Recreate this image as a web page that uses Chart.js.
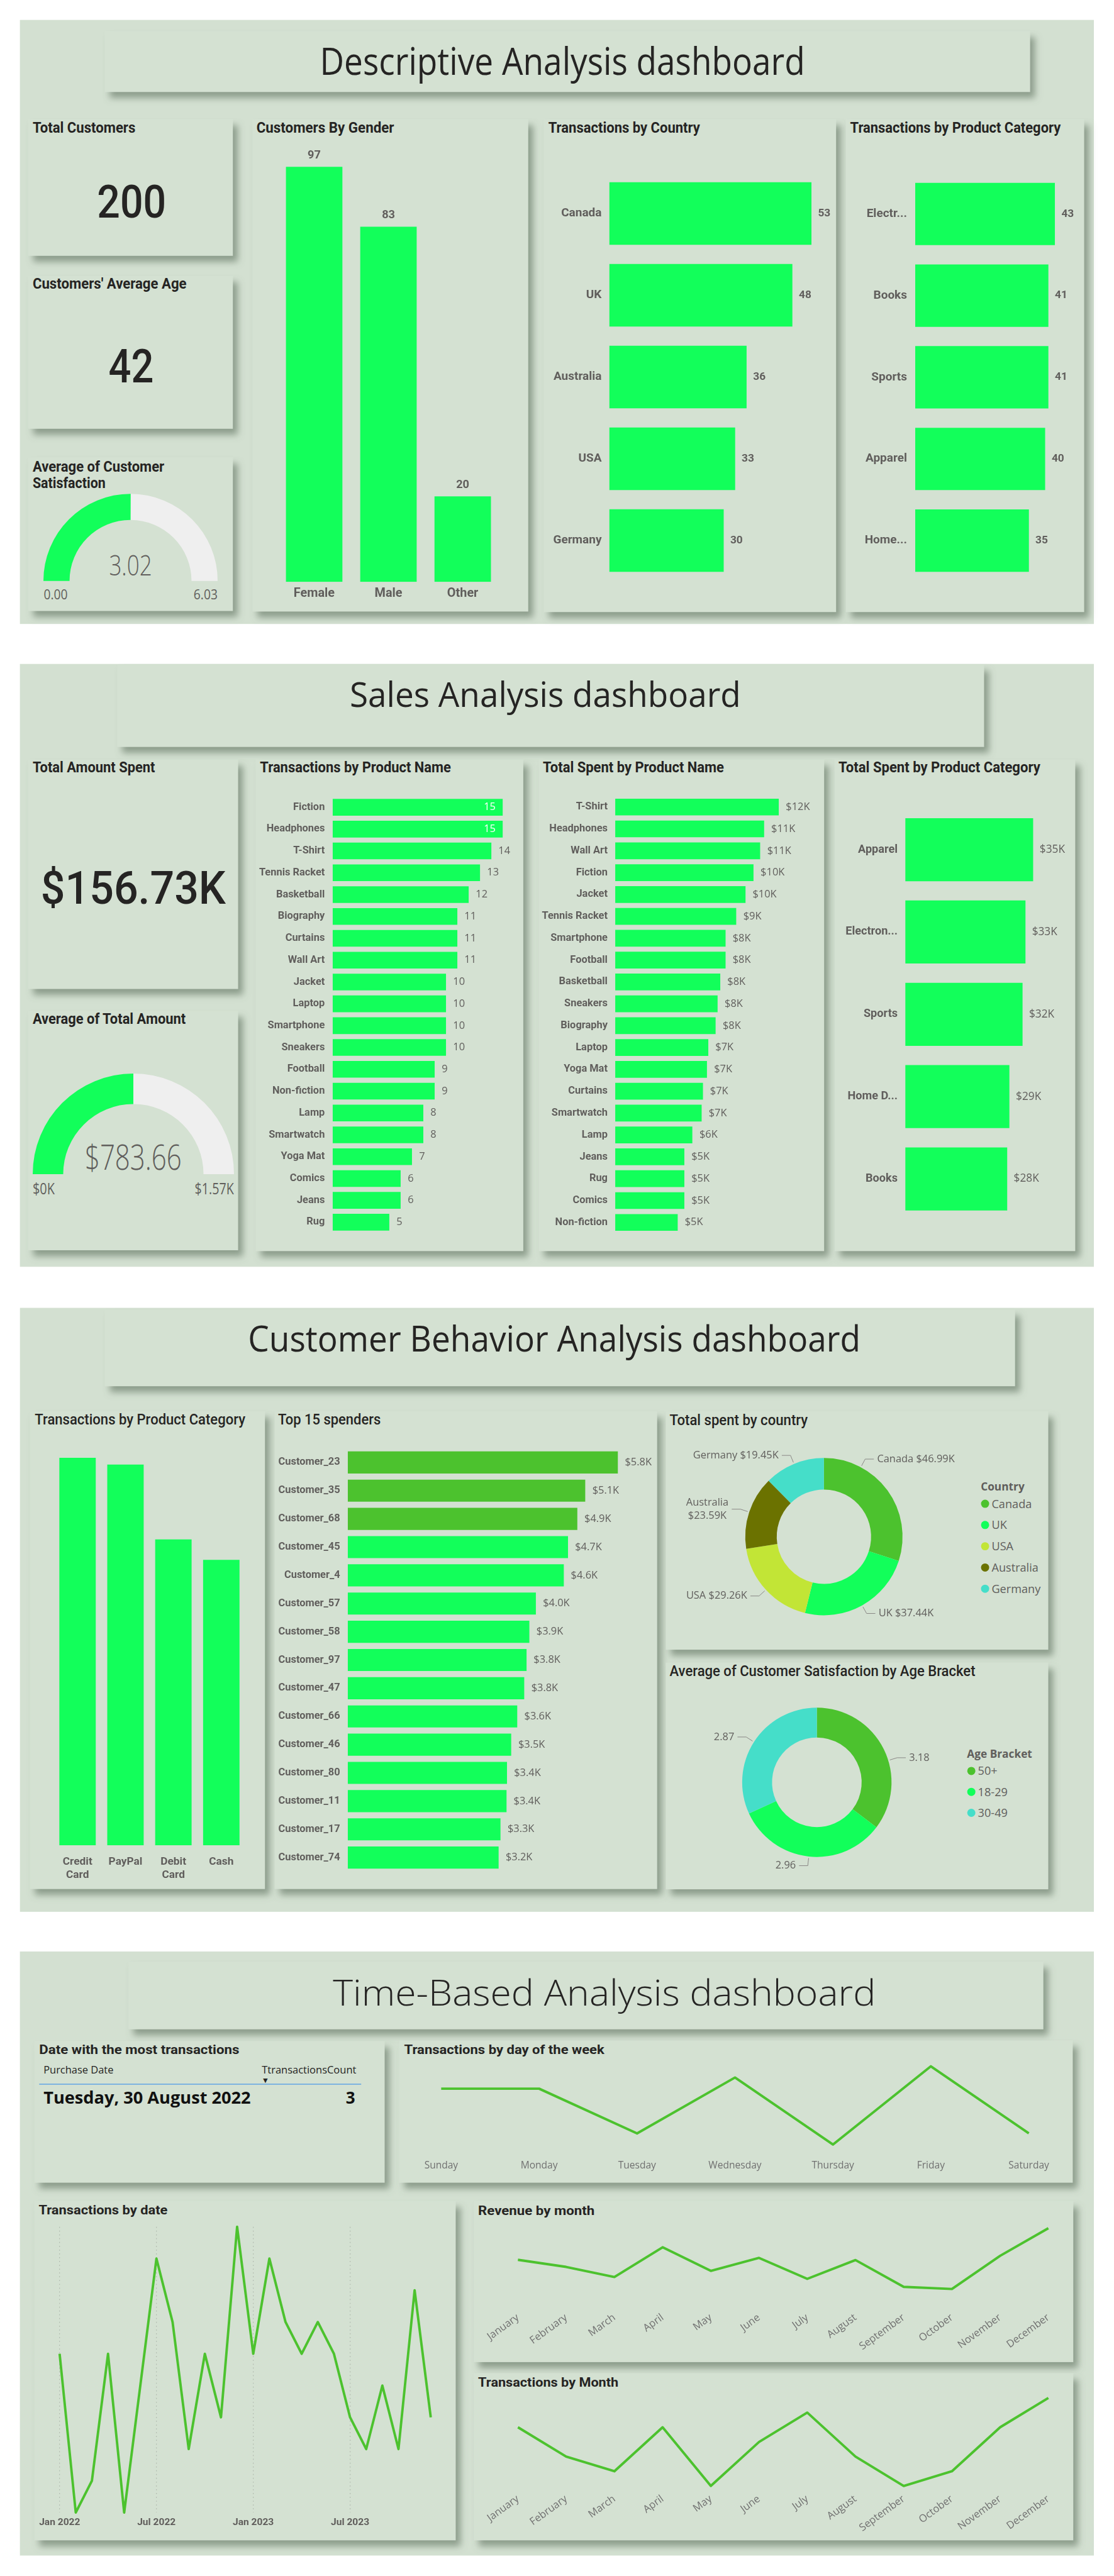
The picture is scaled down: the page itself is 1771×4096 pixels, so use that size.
<!DOCTYPE html>
<html><head><meta charset="utf-8">
<script src="https://cdn.jsdelivr.net/npm/chart.js@4.4.1/dist/chart.umd.min.js"></script>
<style>
html,body{margin:0;padding:0;background:#fff;}
#page{position:relative;width:1771px;height:4096px;overflow:hidden;background:#fff;}
#bg{position:absolute;left:0;top:0;}
canvas{position:absolute;}
</style></head>
<body><div id="page"><svg id="bg" width="1771" height="4096" viewBox="0 0 2048 4736"></svg></div>
<script>
// ---------------- DATA ----------------
// Descriptive
const totalCustomers = 200;
const averageAge = 42;
const avgSatisfaction = 3.02;
const satisfactionMax = 6.03;
const genderLabels = ['Female', 'Male', 'Other'];
const genderCounts = [97, 83, 20];
const countryLabels = ['Canada', 'UK', 'Australia', 'USA', 'Germany'];
const countryTransactions = [53, 48, 36, 33, 30];
const categoryLabels = ['Electr...', 'Books', 'Sports', 'Apparel', 'Home...'];
const categoryTransactions = [43, 41, 41, 40, 35];
// Sales
const totalAmountSpentK = 156.73;
const avgTotalAmount = 783.66;
const avgTotalAmountMax = 1567.32;
const productNames = ['Fiction','Headphones','T-Shirt','Tennis Racket','Basketball','Biography','Curtains','Wall Art','Jacket','Laptop','Smartphone','Sneakers','Football','Non-fiction','Lamp','Smartwatch','Yoga Mat','Comics','Jeans','Rug'];
const productTransactions = [15,15,14,13,12,11,11,11,10,10,10,10,9,9,8,8,7,6,6,5];
const spentProductNames = ['T-Shirt','Headphones','Wall Art','Fiction','Jacket','Tennis Racket','Smartphone','Football','Basketball','Sneakers','Biography','Laptop','Yoga Mat','Curtains','Smartwatch','Lamp','Jeans','Rug','Comics','Non-fiction'];
const spentByProductK = [12.3,11.2,10.9,10.4,9.8,9.1,8.3,8.3,7.9,7.7,7.55,7.0,6.9,6.6,6.5,5.8,5.2,5.2,5.2,4.7];
const spentCategoryLabels = ['Apparel', 'Electron...', 'Sports', 'Home D...', 'Books'];
const spentByCategoryK = [35.0, 32.9, 32.1, 28.5, 27.9];
// Customer behaviour
const paymentLabels = [['Credit','Card'], 'PayPal', ['Debit','Card'], 'Cash'];
const paymentTransactions = [57, 56, 45, 42];
const topSpenders = ['Customer_23','Customer_35','Customer_68','Customer_45','Customer_4','Customer_57','Customer_58','Customer_97','Customer_47','Customer_66','Customer_46','Customer_80','Customer_11','Customer_17','Customer_74'];
const topSpentK = [5.8,5.1,4.93,4.73,4.64,4.04,3.9,3.84,3.79,3.64,3.51,3.42,3.41,3.28,3.24];
const countries = ['Canada','UK','USA','Australia','Germany'];
const spentByCountryK = [46.99, 37.44, 29.26, 23.59, 19.45];
const ageBrackets = ['50+','18-29','30-49'];
const satisfactionByAge = [3.18, 2.96, 2.87];
// Time based
const mostTxDate = 'Tuesday, 30 August 2022';
const mostTxCount = 3;
const weekdays = ['Sunday','Monday','Tuesday','Wednesday','Thursday','Friday','Saturday'];
const weekdayTx = [30,30,26,31,25,32,26];
const dateMonths = ['Jan 2022','Feb 2022','Mar 2022','Apr 2022','May 2022','Jun 2022','Jul 2022','Aug 2022','Sep 2022','Oct 2022','Nov 2022','Dec 2022','Jan 2023','Feb 2023','Mar 2023','Apr 2023','May 2023','Jun 2023','Jul 2023','Aug 2023','Sep 2023','Oct 2023','Nov 2023','Dec 2023'];
const txByDate = [9,4,5,9,4,8,12,10,6,9,7,13,9,12,10,9,10,9,7,6,8,6,11,7];
const monthNames = ['January','February','March','April','May','June','July','August','September','October','November','December'];
const revenueByMonthK = [13.56,12.86,11.86,14.80,12.47,13.75,11.68,13.54,10.89,10.68,13.96,16.68];
const txByMonth = [18,16,15,18,14,17,19,16,14,15,18,20];

// ---------------- STYLE ----------------
const K = 0.864;
const S = v => v * K;
const GREEN = '#12FF5A', DARK_GREEN = '#4CC22E', LINE_GREEN = '#4CC22E', GRAY = '#605E5C', LIGHT = '#EFEFEF';
const PANEL = '#D3E0D1', CARD = '#D4E1D2', INK = '#252423';
const countryColors = ['#4CC22E', '#12FF5A', '#C2E536', '#6B7200', '#45DEC9'];
const ageColors = ['#4CC22E', '#12FF5A', '#45DEC9'];
Chart.defaults.font.family = 'Roboto';

// ---------------- SVG BACKGROUND + TEXT ----------------
const NS = 'http://www.w3.org/2000/svg';
const svg = document.getElementById('bg');
const PAGE = document.getElementById('page');
function el(tag, attrs, parent) {
  const e = document.createElementNS(NS, tag);
  for (const k in attrs) e.setAttribute(k, attrs[k]);
  (parent || svg).appendChild(e); return e;
}
const defs = el('defs', {});
const flt = el('filter', {id: 'sh', x: '-10%', y: '-10%', width: '130%', height: '140%'}, defs);
el('feDropShadow', {dx: 9, dy: 11, stdDeviation: 6, 'flood-color': '#5f6f5e', 'flood-opacity': 0.6}, flt);

const panels = [[36.6,36.3,1974.4,1110.7],[36.6,1220.5,1974.4,1108.5],[36.7,2404.5,1974.3,1110.5],[36.6,3588,1974.4,1110.7]];
const headers = [[192.7,57,1700.9,111.7],[215.5,1222,1593.5,151],[193,2408,1673,140.5],[236,3607,1682,124]];
const cards = [[52,219,376,251],[52,507,376,281],[52,841,376,282],[464,219,507,905],[1000,219,537,906],[1555,219,438,906],
  [52,1396.5,385.6,421.5],[52,1858.6,385.6,440],[470,1396.5,492,903.5],[991,1396.5,524,903.5],[1534.5,1396.5,442.1,903.5],
  [55,2595,432,878],[505,2595,703,878],[1224,2595,703,438],[1224,3057,703,416.6],
  [63,3753,644,260],[734,3752,1238,261],[63,4047,774.6,623.6],[871,4047,1102,296],[871,4363.5,1102,307.1]];
panels.forEach(r => el('rect', {x:r[0], y:r[1], width:r[2], height:r[3], fill: PANEL}));
headers.concat(cards).forEach(r => el('rect', {x:r[0], y:r[1], width:r[2], height:r[3], fill: CARD, filter: 'url(#sh)'}));

function txt(s, x, y, o) {
  o = o || {};
  const t = el('text', {x, y, 'font-family': o.family || 'Roboto', 'font-size': o.size || 27,
    'font-weight': o.weight || 700, fill: o.fill || INK, 'text-anchor': o.anchor || 'start'});
  if (o.len) { t.setAttribute('textLength', o.len); t.setAttribute('lengthAdjust', 'spacingAndGlyphs'); }
  t.textContent = s; return t;
}
// Section headers
txt('Descriptive Analysis dashboard', 588, 137, {family:'Open Sans', weight:400, size:70, len:892});
txt('Sales Analysis dashboard', 643, 1299, {family:'Open Sans', weight:400, size:64, len:719});
txt('Customer Behavior Analysis dashboard', 456, 2484.5, {family:'Open Sans', weight:400, size:66, len:1126});
txt('Time-Based Analysis dashboard', 612, 3687, {family:'Open Sans', weight:300, size:67, len:998});
// Card titles
const T1 = {size:27, weight:700};
txt('Total Customers', 60, 244, {...T1, len:189});
txt("Customers' Average Age", 60, 531, {...T1, len:283});
txt('Average of Customer', 60, 867, {...T1, len:242});
txt('Satisfaction', 60, 897, {...T1, len:134});
txt('Customers By Gender', 471.5, 244, {...T1, len:253});
txt('Transactions by Country', 1008, 244, {...T1, len:279});
txt('Transactions by Product Category', 1563, 244, {...T1, len:387});
txt('Total Amount Spent', 60, 1420, {...T1, len:225});
txt('Average of Total Amount', 60, 1882, {...T1, len:281.5});
txt('Transactions by Product Name', 478, 1420, {...T1, len:351});
txt('Total Spent by Product Name', 998, 1420, {...T1, len:333});
txt('Total Spent by Product Category', 1541.5, 1420, {...T1, len:371});
const T3 = {size:27, weight:500};
txt('Transactions by Product Category', 64, 2619, {...T3, len:387});
txt('Top 15 spenders', 511, 2619, {...T3, len:189});
txt('Total spent by country', 1231, 2619.6, {...T3, len:254});
txt('Average of Customer Satisfaction by Age Bracket', 1231, 3082, {...T3, len:562});
const T4 = {size:24, weight:700};
txt('Date with the most transactions', 72, 3777, {...T4, len:368});
txt('Transactions by day of the week', 743, 3777, {...T4, len:368});
txt('Transactions by date', 71, 4071, {...T4, len:237});
txt('Revenue by month', 879, 4072, {...T4, len:214});
txt('Transactions by Month', 879, 4388.6, {...T4, len:258});
// KPI values
txt(String(totalCustomers), 242, 399.6, {size:83, weight:500, anchor:'middle', len:127});
txt(String(averageAge), 241, 703, {size:85, weight:500, anchor:'middle', len:83});
txt('$' + totalAmountSpentK.toFixed(2) + 'K', 75, 1662, {size:84, weight:500, len:340});
// Gauge texts
txt(avgSatisfaction.toFixed(2), 240, 1058, {family:'Open Sans', weight:300, size:52, fill:GRAY, anchor:'middle', len:79});
txt((0).toFixed(2), 80.3, 1102, {family:'Open Sans', weight:400, size:26, fill:GRAY, len:44});
txt(satisfactionMax.toFixed(2), 400, 1102, {family:'Open Sans', weight:400, size:26, fill:GRAY, anchor:'end', len:44});
txt('$' + avgTotalAmount.toFixed(2), 245, 2151, {family:'Open Sans', weight:300, size:63, fill:GRAY, anchor:'middle', len:178});
txt('$0K', 60, 2196, {family:'Open Sans', weight:400, size:29, fill:GRAY, len:40.5});
txt('$' + (avgTotalAmountMax/1000).toFixed(2) + 'K', 430, 2196, {family:'Open Sans', weight:400, size:29, fill:GRAY, anchor:'end', len:72});
// Legends
function legend(title, names, colors, x, yTitle, y0, step) {
  txt(title, x - 8, yTitle + 7, {family:'Open Sans', weight:700, size:20, fill:GRAY});
  names.forEach((n, i) => {
    const y = y0 + i * step;
    el('circle', {cx: x, cy: y, r: 7.5, fill: colors[i]});
    txt(n, x + 12, y + 7.5, {family:'Open Sans', weight:400, size:21, fill:GRAY});
  });
}
legend('Country', countries, countryColors, 1811, 2733, 2764.7, 39.07);
legend('Age Bracket', ageBrackets, ageColors, 1785.7, 3224.5, 3256, 38.5);
// Date table
txt('Purchase Date', 80, 3812, {family:'Open Sans', weight:400, size:19, len:128.7});
txt('TtransactionsCount', 655, 3812, {family:'Open Sans', weight:400, size:19, anchor:'end', len:173.7});
txt('\u25BC', 488, 3828, {family:'DejaVu Sans', weight:400, size:11, anchor:'middle'});
el('line', {x1:72, y1:3832, x2:664, y2:3832, stroke:'#7DB3E0', 'stroke-width':2.5});
txt(mostTxDate, 80, 3868, {family:'Open Sans', weight:700, size:30, fill:'#111', len:381});
txt(String(mostTxCount), 653, 3868, {family:'Open Sans', weight:700, size:30, fill:'#111', anchor:'end'});

// ---------------- CHART HELPERS ----------------
function canvasAt(r) {
  const L = Math.round(S(r[0])), T = Math.round(S(r[1])), R = Math.round(S(r[2])), B = Math.round(S(r[3]));
  const c = document.createElement('canvas');
  c.width = R - L; c.height = B - T;
  c.style.left = L + 'px'; c.style.top = T + 'px'; c.style.width = (R - L) + 'px'; c.style.height = (B - T) + 'px';
  PAGE.appendChild(c);
  return {c, L, T, R, B};
}
const baseOpts = {responsive:false, maintainAspectRatio:false, animation:false, devicePixelRatio:1,
  plugins:{legend:{display:false}, tooltip:{enabled:false}}};
function fnt(size, weight, family) { return {size: S(size), weight: weight || 'normal', family: family || 'Roboto'}; }
function cssFont(size, weight, family) { return `${weight || 'normal'} ${S(size)}px ${family || 'Roboto'}`; }

function valueLabels(v) {
  return {id:'vl', afterDatasetsDraw(chart) {
    const ctx = chart.ctx, meta = chart.getDatasetMeta(0), data = chart.data.datasets[0].data;
    ctx.save(); ctx.font = v.font;
    meta.data.forEach((e, i) => {
      const s = v.fmt(data[i]); const w = ctx.measureText(s).width;
      if (v.vertical) {
        ctx.textAlign = 'center'; ctx.textBaseline = 'middle'; ctx.fillStyle = v.color;
        ctx.fillText(s, e.x, e.y - S(v.gap));
      } else {
        ctx.textBaseline = 'middle';
        const x = e.x + S(v.gap);
        if (x + w > chart.chartArea.right) {
          ctx.textAlign = 'right'; ctx.fillStyle = v.inside || '#fff'; ctx.fillText(s, e.x - S(v.gap), e.y);
        } else {
          ctx.textAlign = 'left'; ctx.fillStyle = v.color; ctx.fillText(s, x, e.y);
        }
      }
    });
    ctx.restore();
  }};
}

function hbar(o) {
  const cv = canvasAt(o.rect);
  const a = o.area;
  const pad = {left:0, top:S(a[1]) - cv.T, right:cv.R - S(a[2]), bottom:cv.B - S(a[3])};
  const axisW = S(a[0]) - cv.L;
  return new Chart(cv.c, {
    type:'bar',
    data:{labels:o.labels, datasets:[{data:o.values, backgroundColor:o.colors || GREEN, borderWidth:0,
      barPercentage:o.ratio, categoryPercentage:1}]},
    options:{...baseOpts, indexAxis:'y', layout:{padding:pad},
      scales:{
        x:{display:false, min:0, max:o.max},
        y:{afterFit:s => { s.width = axisW; }, grid:{display:false, drawTicks:false}, border:{display:false},
           ticks:{autoSkip:false, padding:S(o.tickPad), color:GRAY, font:o.labelFont}}
      }},
    plugins:o.vl ? [valueLabels(o.vl)] : []
  });
}
function vbar(o) {
  const cv = canvasAt(o.rect);
  const a = o.area;
  const pad = {left:S(a[0]) - cv.L, top:S(a[1]) - cv.T, right:cv.R - S(a[2]), bottom:0};
  const axisH = cv.B - S(a[3]);
  return new Chart(cv.c, {
    type:'bar',
    data:{labels:o.labels, datasets:[{data:o.values, backgroundColor:GREEN, borderWidth:0,
      barPercentage:o.ratio, categoryPercentage:1}]},
    options:{...baseOpts, layout:{padding:pad},
      scales:{
        y:{display:false, min:0, max:o.max},
        x:{afterFit:s => { s.height = axisH; }, grid:{display:false, drawTicks:false}, border:{display:false},
           ticks:{autoSkip:false, maxRotation:0, padding:S(o.tickPad), color:GRAY, font:o.labelFont}}
      }},
    plugins:o.vl ? [valueLabels(o.vl)] : []
  });
}
function lineChart(o) {
  const cv = canvasAt(o.rect);
  const a = o.area;
  const pad = {left:S(a[0]) - cv.L, top:S(a[1]) - cv.T, right:cv.R - S(a[2]), bottom:0};
  const axisH = cv.B - S(a[3]);
  const ticks = {autoSkip:false, minRotation:o.rot || 0, maxRotation:o.rot || 0, padding:S(o.tickPad),
    color:o.tickColor || GRAY, font:o.labelFont,
    callback: o.tickCb || function(v) { return this.getLabelForValue(v); }};
  return new Chart(cv.c, {
    type:'line',
    data:{labels:o.labels, datasets:[{data:o.values, borderColor:LINE_GREEN, borderWidth:S(4.5), pointRadius:0,
      tension:0, fill:false, clip:false, borderJoinStyle:'round'}]},
    options:{...baseOpts, layout:{padding:pad},
      scales:{
        y:{display:false, min:o.min, max:o.max},
        x:{afterFit:s => { s.height = axisH; },
           grid:o.grid || {display:false, drawTicks:false},
           border:{display:false, dash:[S(2), S(5)]},
           ticks}
      }}
  });
}
function donutLabels(o) {
  return {id:'dl', afterDatasetsDraw(chart) {
    const ctx = chart.ctx, meta = chart.getDatasetMeta(0);
    ctx.save(); ctx.font = cssFont(19, 'normal', '"Open Sans"'); ctx.fillStyle = GRAY; ctx.strokeStyle = '#8A8886'; ctx.lineWidth = 1;
    meta.data.forEach((arc, i) => {
      let ang = (arc.startAngle + arc.endAngle) / 2;
      if (o.angleFromTop && o.angleFromTop[i] != null) ang = (o.angleFromTop[i] - 90) * Math.PI / 180;
      const r = arc.outerRadius + S(3);
      const x0 = arc.x + Math.cos(ang) * r, y0 = arc.y + Math.sin(ang) * r;
      const x1 = arc.x + Math.cos(ang) * (r + S(14)), y1 = arc.y + Math.sin(ang) * (r + S(14));
      const dir = Math.cos(ang) >= 0 ? 1 : -1;
      const x2 = x1 + dir * S(16);
      ctx.beginPath(); ctx.moveTo(x0, y0); ctx.lineTo(x1, y1); ctx.lineTo(x2, y1); ctx.stroke();
      const tx = x2 + dir * S(6);
      ctx.textBaseline = 'middle';
      let lines = [o.full(i)];
      const avail = dir > 0 ? chart.width - tx : tx;
      if (ctx.measureText(lines[0]).width > avail - 4 && o.split) lines = o.split(i);
      if (lines.length === 1) {
        ctx.textAlign = dir > 0 ? 'left' : 'right'; ctx.fillText(lines[0], tx, y1);
      } else {
        const mw = Math.max(...lines.map(l => ctx.measureText(l).width));
        const cx = dir > 0 ? tx + mw / 2 : tx - mw / 2; const lh = S(24.5);
        ctx.textAlign = 'center';
        lines.forEach((l, k) => ctx.fillText(l, cx, y1 + (k - (lines.length - 1) / 2) * lh));
      }
    });
    ctx.restore();
  }};
}
function donut(o) {
  const cv = canvasAt(o.rect);
  const a = o.square;
  const pad = {left:S(a[0]) - cv.L, top:S(a[1]) - cv.T, right:cv.R - S(a[2]), bottom:cv.B - S(a[3])};
  return new Chart(cv.c, {
    type:'doughnut',
    data:{labels:o.labels, datasets:[{data:o.values, backgroundColor:o.colors, borderWidth:0}]},
    options:{...baseOpts, cutout:o.cutout, layout:{padding:pad}},
    plugins:[donutLabels(o)]
  });
}
function gauge(rect, value, max, cutout) {
  const cv = canvasAt(rect);
  return new Chart(cv.c, {
    type:'doughnut',
    data:{labels:['value','remaining'], datasets:[{data:[value, max - value], backgroundColor:[GREEN, LIGHT], borderWidth:0}]},
    options:{...baseOpts, rotation:-90, circumference:180, cutout, layout:{padding:0}}
  });
}

// ---------------- CHARTS ----------------
// Descriptive
gauge([79.7, 908.5, 400.7, 1069], avgSatisfaction, satisfactionMax, '70%');
vbar({rect:[464, 232, 971, 1124], area:[509.75, 244, 919.75, 1071], labels:genderLabels, values:genderCounts, max:105,
  ratio:0.76, tickPad:8.2, labelFont:fnt(23, 'bold'),
  vl:{vertical:true, gap:21, font:cssFont(21, 'bold'), color:GRAY, fmt:v => String(v)}});
hbar({rect:[1000, 290, 1537, 1100], area:[1121, 311, 1535, 1070], labels:countryLabels, values:countryTransactions, max:58.97,
  ratio:0.764, tickPad:14, labelFont:fnt(22, 'bold'),
  vl:{gap:12, font:cssFont(20, 'bold'), color:GRAY, fmt:v => String(v)}});
hbar({rect:[1555, 290, 1993, 1100], area:[1684, 311, 1990, 1070], labels:categoryLabels, values:categoryTransactions, max:51.2,
  ratio:0.764, tickPad:15, labelFont:fnt(22, 'bold'),
  vl:{gap:12, font:cssFont(20, 'bold'), color:GRAY, fmt:v => String(v)}});
// Sales
gauge([60, 1976, 430, 2161], avgTotalAmount, avgTotalAmountMax, '69.7%');
hbar({rect:[470, 1440, 962, 2295], area:[612, 1456.4, 950, 2280.6], labels:productNames, values:productTransactions, max:16.2,
  ratio:0.765, tickPad:14.4, labelFont:fnt(19, 'bold'),
  vl:{gap:13, font:cssFont(19, 'normal', '"Open Sans"'), color:GRAY, inside:'#ffffff', fmt:v => String(v)}});
hbar({rect:[991, 1440, 1515, 2295], area:[1132, 1456.4, 1510, 2280.6], labels:spentProductNames, values:spentByProductK, max:15.45,
  ratio:0.765, tickPad:14, labelFont:fnt(19, 'bold'),
  vl:{gap:13, font:cssFont(19, 'normal', '"Open Sans"'), color:GRAY, fmt:v => '$' + Math.round(v) + 'K'}});
hbar({rect:[1534.5, 1440, 1976.6, 2295], area:[1665.7, 1487.95, 1974, 2245.35], labels:spentCategoryLabels, values:spentByCategoryK, max:45.86,
  ratio:0.766, tickPad:14, labelFont:fnt(21, 'bold'),
  vl:{gap:12, font:cssFont(20, 'normal', '"Open Sans"'), color:GRAY, fmt:v => '$' + Math.round(v) + 'K'}});
// Customer behaviour
vbar({rect:[55, 2630, 487, 3470], area:[98.6, 2645, 451.3, 3396], labels:paymentLabels, values:paymentTransactions, max:60.03,
  ratio:0.76, tickPad:19, labelFont:fnt(20, 'bold')});
hbar({rect:[505, 2640, 1208, 3470], area:[639.8, 2659.6, 1200, 3450.9], labels:topSpenders, values:topSpentK, max:6.537,
  colors:topSpentK.map((v, i) => i < 3 ? DARK_GREEN : GREEN),
  ratio:0.785, tickPad:14, labelFont:fnt(19, 'bold'),
  vl:{gap:13, font:cssFont(19, 'normal', '"Open Sans"'), color:GRAY, fmt:v => '$' + v.toFixed(1) + 'K'}});
donut({rect:[1224, 2630, 1927, 3030], square:[1371.3, 2683.3, 1660.7, 2972.7], labels:countries, values:spentByCountryK,
  colors:countryColors, cutout:'60%', angleFromTop:{0:28},
  full:i => countries[i] + ' $' + spentByCountryK[i].toFixed(2) + 'K',
  split:i => [countries[i], '$' + spentByCountryK[i].toFixed(2) + 'K']});
donut({rect:[1224, 3095, 1927, 3470], square:[1365.6, 3142.6, 1640.4, 3417.4], labels:ageBrackets, values:satisfactionByAge,
  colors:ageColors, cutout:'60%', angleFromTop:{0:73},
  full:i => satisfactionByAge[i].toFixed(2)});
// Time based
lineChart({rect:[734, 3785, 1972, 4005], area:[811.8, 3790, 1893, 3967.3], labels:weekdays, values:weekdayTx, min:24.0, max:32.62,
  tickPad:7.5, tickColor:'#707070', labelFont:fnt(18, 'normal', '"Open Sans"')});
lineChart({rect:[63, 4085, 837.6, 4668], area:[109.7, 4098, 792.6, 4624], labels:dateMonths, values:txByDate, min:4, max:13,
  tickPad:8, labelFont:fnt(18, 'bold'),
  grid:{display:true, drawTicks:false, lineWidth:S(1.5), color:c => (c.index % 6 === 0) ? 'rgba(0,0,0,0.16)' : 'rgba(0,0,0,0)'},
  tickCb:function(v, i) { return i % 6 === 0 ? this.getLabelForValue(v) : ''; }});
lineChart({rect:[871, 4080, 1973, 4340], area:[953, 4085.4, 1929, 4243.9], labels:monthNames, values:revenueByMonthK, min:9, max:17.5,
  tickPad:10, rot:36, tickColor:'#707070', labelFont:fnt(19, 'normal', '"Open Sans"')});
lineChart({rect:[871, 4392, 1973, 4668], area:[953, 4396.8, 1929, 4577.7], labels:monthNames, values:txByMonth, min:13.9, max:20.6,
  tickPad:10, rot:36, tickColor:'#707070', labelFont:fnt(19, 'normal', '"Open Sans"')});
</script></body></html>
